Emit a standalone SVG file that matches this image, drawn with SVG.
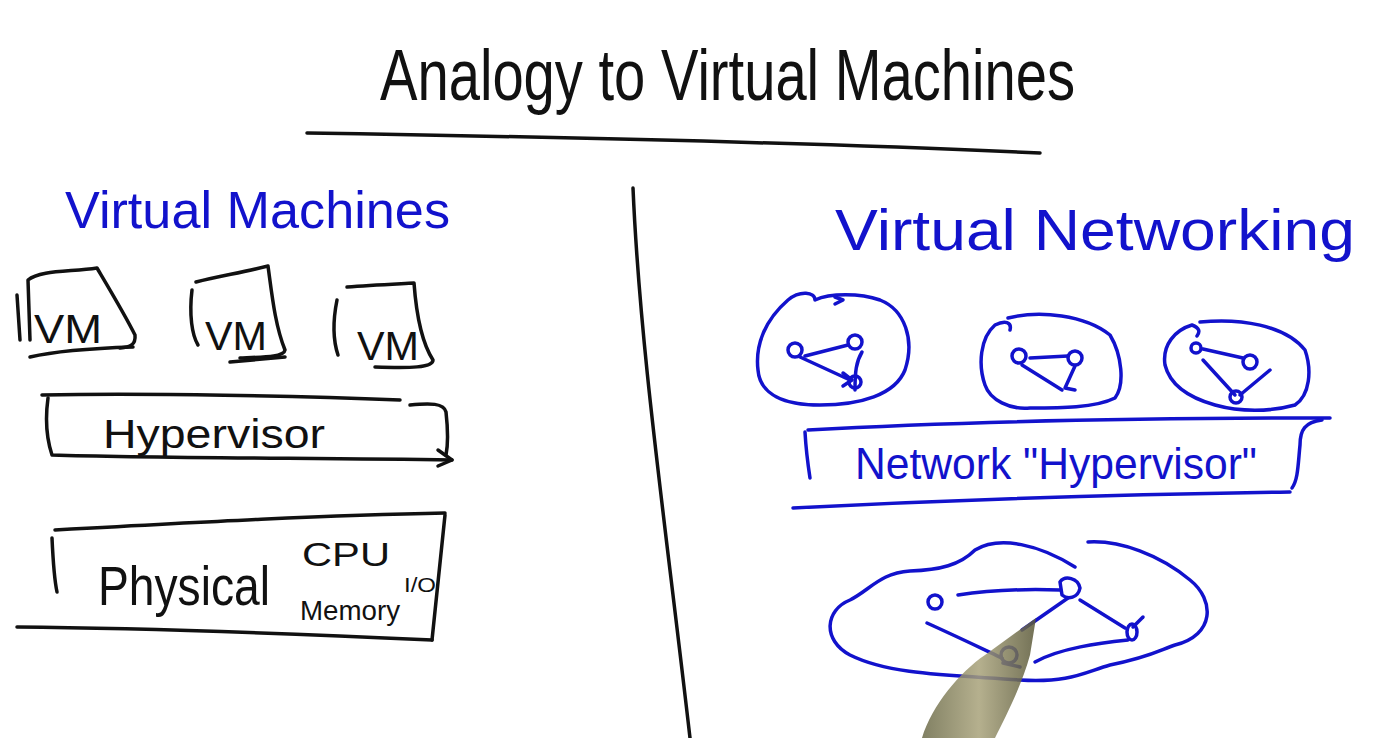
<svg xmlns="http://www.w3.org/2000/svg" width="1380" height="738" viewBox="0 0 1380 738">
<style>
.k{fill:none;stroke:#111;stroke-width:3.5;stroke-linecap:round;stroke-linejoin:round}
.b{fill:none;stroke:#1212cc;stroke-width:3.5;stroke-linecap:round;stroke-linejoin:round}
.tk{fill:#111;font-family:"Liberation Sans","DejaVu Sans",sans-serif}
.tb{fill:#1212cc;font-family:"Liberation Sans","DejaVu Sans",sans-serif}
</style>
<defs>
<linearGradient id="pen" x1="0" y1="0" x2="1" y2="0">
<stop offset="0" stop-color="#6b6a48"/><stop offset="0.5" stop-color="#a8a27a"/><stop offset="1" stop-color="#5a5838"/>
</linearGradient>
</defs>
<rect width="1380" height="738" fill="#fff"/>

<g id="title">
<text class="tk" x="380" y="100" font-size="72" textLength="695" lengthAdjust="spacingAndGlyphs">Analogy to Virtual Machines</text>
<path class="k" d="M307,133 C500,136 800,142 1040,153"/>
</g>
<path id="divider" class="k" d="M633,188 C640,350 665,520 690,738"/>

<g id="vm-side">
<text class="tb" x="65" y="228" font-size="52" textLength="385" lengthAdjust="spacingAndGlyphs">Virtual Machines</text>
<g id="vm1">
<path class="k" d="M17,295 L20,340"/>
<path class="k" d="M30,340 L28,280 C40,270 70,272 97,268 C110,290 125,315 135,335 C136,345 130,347 120,348"/>
<path class="k" d="M30,357 C60,350 100,348 133,347"/>
<text class="tk" x="34" y="343" font-size="40" textLength="68" lengthAdjust="spacingAndGlyphs">VM</text>
</g>
<g id="vm2">
<path class="k" d="M192,290 C189,315 192,335 198,345"/>
<path class="k" d="M196,282 C220,276 245,272 268,266 C272,295 275,325 285,350 C284,357 265,357 240,358"/>
<path class="k" d="M230,362 L285,357"/>
<text class="tk" x="205" y="350" font-size="40" textLength="62" lengthAdjust="spacingAndGlyphs">VM</text>
</g>
<g id="vm3">
<path class="k" d="M337,300 C333,320 333,340 338,355"/>
<path class="k" d="M347,287 C370,285 395,284 414,283 C416,310 420,340 433,360 C433,368 410,368 375,367"/>
<text class="tk" x="357" y="360" font-size="40" textLength="62" lengthAdjust="spacingAndGlyphs">VM</text>
</g>
<g id="hypervisor">
<path class="k" d="M42,395 C150,393 300,396 400,400"/>
<path class="k" d="M48,398 C45,420 47,440 52,455 C150,458 300,458 452,460"/>
<path class="k" d="M410,405 C430,403 444,403 446,412 C448,430 448,445 446,455"/>
<path class="k" d="M438,450 L452,460 L438,466"/>
<text class="tk" x="103" y="448" font-size="40" textLength="222" lengthAdjust="spacingAndGlyphs">Hypervisor</text>
</g>
<g id="physical">
<path class="k" d="M55,530 C200,522 330,515 445,513"/>
<path class="k" d="M52,538 C53,560 54,578 57,592"/>
<path class="k" d="M445,515 C440,560 436,600 432,640"/>
<path class="k" d="M17,627 C150,628 300,634 432,640"/>
<text class="tk" x="98" y="605" font-size="56" textLength="172" lengthAdjust="spacingAndGlyphs">Physical</text>
<text class="tk" x="302" y="566" font-size="34" textLength="88" lengthAdjust="spacingAndGlyphs">CPU</text>
<text class="tk" x="300" y="620" font-size="28" textLength="100" lengthAdjust="spacingAndGlyphs">Memory</text>
<text class="tk" x="404" y="592" font-size="20" textLength="32" lengthAdjust="spacingAndGlyphs">I/O</text>
</g>
</g>

<g id="net-side">
<text class="tb" x="835" y="250" font-size="58" textLength="520" lengthAdjust="spacingAndGlyphs">Virtual Networking</text>
<g id="vnet1">
<path class="b" d="M788,300 C800,290 815,292 815,300 C830,293 860,293 880,300 C905,310 915,340 905,370 C895,395 860,405 820,405 C785,405 760,395 758,370 C755,345 765,320 788,300 Z"/>
<path class="b" d="M835,297 L843,300 L835,304"/>
<circle class="b" cx="795" cy="350" r="7"/>
<circle class="b" cx="855" cy="342" r="7"/>
<circle class="b" cx="855" cy="382" r="6"/>
<path class="b" d="M805,356 L848,345"/>
<path class="b" d="M800,357 L850,380"/>
<path class="b" d="M843,373 L852,380 L843,386"/>
<path class="b" d="M862,352 C856,362 855,372 855,390"/>
</g>
<g id="vnet2">
<path class="b" d="M1008,318 C1040,310 1085,315 1110,335 C1122,355 1125,385 1115,398 C1095,408 1060,408 1030,408 C1010,410 990,400 985,385 C978,365 980,338 995,325 C1005,320 1012,322 1010,330"/>
<circle class="b" cx="1019" cy="356" r="7"/>
<circle class="b" cx="1075" cy="358" r="7"/>
<path class="b" d="M1030,358 L1068,356"/>
<path class="b" d="M1022,365 L1062,390"/>
<path class="b" d="M1075,366 L1065,388 L1075,390"/>
</g>
<g id="vnet3">
<path class="b" d="M1200,322 C1240,318 1285,325 1305,350 C1312,370 1310,395 1295,405 C1270,412 1240,412 1215,405 C1190,398 1170,385 1165,365 C1162,345 1175,330 1192,325 C1200,328 1200,332 1197,336"/>
<circle class="b" cx="1196" cy="348" r="5"/>
<circle class="b" cx="1250" cy="362" r="7"/>
<circle class="b" cx="1236" cy="397" r="6"/>
<path class="b" d="M1203,349 L1243,358"/>
<path class="b" d="M1203,360 L1235,395"/>
<path class="b" d="M1270,370 L1240,395"/>
</g>
<g id="net-hypervisor">
<path class="b" d="M808,430 C950,422 1150,418 1330,418"/>
<path class="b" d="M805,432 C806,450 808,465 810,478"/>
<path class="b" d="M1322,420 C1305,422 1300,430 1300,445 C1298,465 1298,480 1292,488"/>
<path class="b" d="M793,508 C950,500 1150,494 1290,492"/>
<text class="tb" x="855" y="479" font-size="44" textLength="402" lengthAdjust="spacingAndGlyphs">Network "Hypervisor"</text>
</g>
<g id="physical-net">
<path class="b" d="M1075,567 C1040,545 1000,535 975,550 C960,565 940,570 910,571 C880,573 870,590 850,600 C825,610 822,640 850,655 C890,675 950,675 1020,680 C1070,683 1085,672 1110,665 C1150,657 1160,650 1175,645 C1215,635 1215,600 1190,580 C1160,555 1120,540 1088,542"/>
<circle class="b" cx="935" cy="602" r="7"/>
<path class="b" d="M1060,582 C1065,575 1078,578 1080,588 C1078,598 1068,600 1062,595 Z"/>
<ellipse class="b" cx="1132" cy="632" rx="5" ry="8"/>
<circle class="b" cx="1009" cy="655" r="8"/>
<path class="b" d="M958,595 C990,590 1030,589 1060,590"/>
<path class="b" d="M1068,598 L1022,630"/>
<path class="b" d="M1080,600 L1125,628"/>
<path class="b" d="M1133,627 L1143,617"/>
<path class="b" d="M927,623 C960,638 985,650 1002,658"/>
<path class="b" d="M1003,663 L1020,667"/>
<path class="b" d="M1035,662 C1060,648 1100,643 1128,640"/>
</g>
</g>

<path id="pen" d="M922,738 C932,705 960,672 985,655 L1036,618 L1030,655 C1022,685 1005,718 995,738 Z" fill="url(#pen)" opacity="0.85"/>
</svg>
